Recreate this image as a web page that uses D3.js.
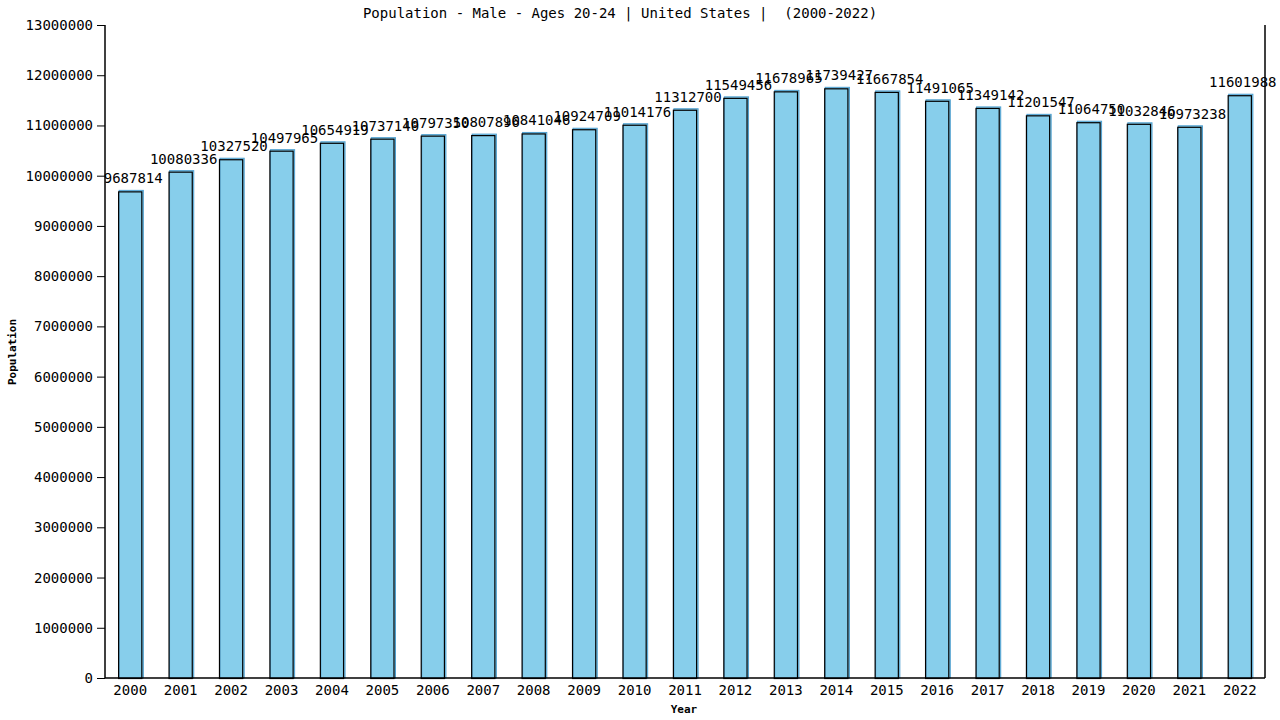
<!DOCTYPE html>
<html>
<head>
<meta charset="utf-8">
<script src="https://cdn.jsdelivr.net/npm/d3@7"></script>
<style>
  body { margin: 0; background: #fff; }
  svg text { font-family: "DejaVu Sans Mono", monospace; fill: #000; }
</style>
</head>
<body>
<svg id="chart" width="1280" height="720"></svg>
<script>
var years = ['2000', '2001', '2002', '2003', '2004', '2005', '2006', '2007', '2008', '2009', '2010',
    '2011', '2012', '2013', '2014', '2015', '2016', '2017', '2018', '2019', '2020', '2021', '2022'];
var population = [9687814, 10080336, 10327520, 10497965, 10654919, 10737140, 10797350, 10807896,
    10841046, 10924709, 11014176, 11312700, 11549456, 11678965, 11739427, 11667854, 11491065,
    11349142, 11201547, 11064750, 11032846, 10973238, 11601988];
var yTicks = [0, 1000000, 2000000, 3000000, 4000000, 5000000, 6000000, 7000000, 8000000, 9000000,
    10000000, 11000000, 12000000, 13000000];
var titleText = 'Population - Male - Ages 20-24 | United States |  (2000-2022)';

var svg = d3.select('#chart'),
    plotLeft = 105, plotRight = 1265, plotTop = 25, plotBottom = 678;

var x = d3.scaleBand().domain(years).range([plotLeft, plotRight])
    .paddingInner(0.52).paddingOuter(0.26);
var y = d3.scaleLinear().domain([0, 13000000]).range([plotBottom, plotTop]);

// title (keeps the double space before the years)
svg.append('text')
    .attr('x', 620).attr('y', 18)
    .attr('text-anchor', 'middle')
    .style('font-size', '14px')
    .style('white-space', 'pre')
    .text(titleText);

// bars: light blue fill with a black outline set 1px down-left
var bars = svg.append('g').selectAll('g')
    .data(years).enter().append('g');

bars.append('rect')
    .attr('x', function(d) { return x(d) + 1; })
    .attr('y', function(d, i) { return y(population[i]) - 1; })
    .attr('width', x.bandwidth())
    .attr('height', function(d, i) { return plotBottom - y(population[i]) + 1; })
    .attr('fill', '#87ceeb')
    .attr('stroke', '#4f9fcf')
    .attr('stroke-width', 1);

bars.append('rect')
    .attr('x', function(d) { return x(d) + 0.5; })
    .attr('y', function(d, i) { return y(population[i]) + 0.5; })
    .attr('width', x.bandwidth() - 1)
    .attr('height', function(d, i) { return plotBottom - y(population[i]); })
    .attr('fill', 'none')
    .attr('stroke', '#000')
    .attr('stroke-width', 1.2);

// value labels
bars.append('text')
    .attr('x', function(d) { return x(d) + x.bandwidth() / 2 + 3; })
    .attr('y', function(d, i) { return y(population[i]) - 8; })
    .attr('text-anchor', 'middle')
    .style('font-size', '14px')
    .text(function(d, i) { return population[i]; });

// y axis
var yAxis = svg.append('g')
    .attr('transform', 'translate(' + plotLeft + ',0)')
    .call(d3.axisLeft(y).tickValues(yTicks).tickFormat(d3.format('d')).tickSize(8).tickPadding(4));
yAxis.select('.domain').attr('stroke', '#000').attr('stroke-width', 1.5)
    .attr('d', 'M0,' + plotTop + 'V' + plotBottom);
yAxis.selectAll('.tick line').attr('stroke', '#000');
yAxis.selectAll('.tick text').style('font-size', '14px')
    .style('font-family', '"DejaVu Sans Mono", monospace');

// x axis
var xAxis = svg.append('g')
    .attr('transform', 'translate(0,' + plotBottom + ')')
    .call(d3.axisBottom(x).tickSize(0).tickPadding(7));
xAxis.select('.domain').attr('stroke', '#000').attr('stroke-width', 1.5)
    .attr('d', 'M' + plotLeft + ',0H' + plotRight);
xAxis.selectAll('.tick text').style('font-size', '14px')
    .style('font-family', '"DejaVu Sans Mono", monospace');

// right border
svg.append('line')
    .attr('x1', plotRight).attr('x2', plotRight)
    .attr('y1', plotTop).attr('y2', plotBottom)
    .attr('stroke', '#000').attr('stroke-width', 1.5);

// axis titles
svg.append('text')
    .attr('x', 684).attr('y', 713)
    .attr('text-anchor', 'middle')
    .style('font-size', '11px').style('font-weight', 'bold')
    .text('Year');

svg.append('text')
    .attr('transform', 'translate(16,352) rotate(-90)')
    .attr('text-anchor', 'middle')
    .style('font-size', '11px').style('font-weight', 'bold')
    .text('Population');
</script>
</body>
</html>
